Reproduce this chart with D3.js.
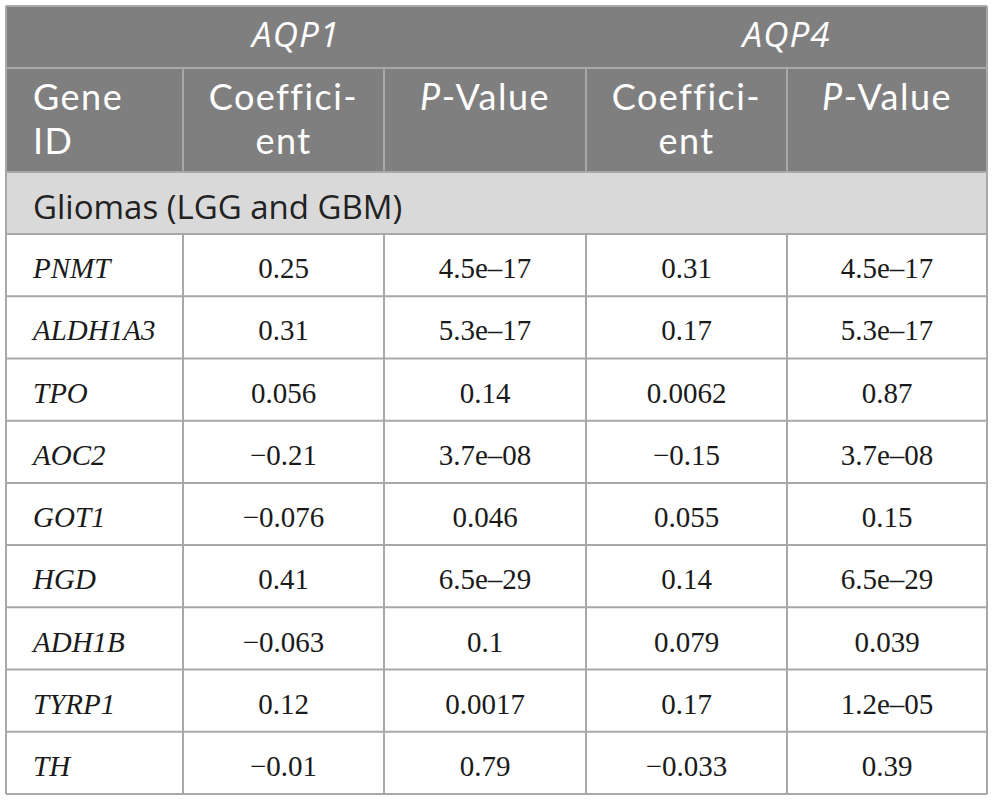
<!DOCTYPE html>
<html>
<head>
<meta charset="utf-8">
<script src="https://cdn.jsdelivr.net/npm/d3@7"></script>
<style>
  html, body { margin: 0; padding: 0; background: #fff; }
</style>
</head>
<body>
<div id="chart"></div>
<script>
// table content
const groups = ['AQP1', 'AQP4']
const subHeaders = ['Coeffici-|ent', 'P-Value']
const section = 'Gliomas (LGG and GBM)'
const genes = ['PNMT', 'ALDH1A3', 'TPO', 'AOC2', 'GOT1', 'HGD', 'ADH1B', 'TYRP1', 'TH']
const aqp1Coef = [0.25, 0.31, 0.056, -0.21, -0.076, 0.41, -0.063, 0.12, -0.01]
const aqp1P = ['4.5e–17', '5.3e–17', '0.14', '3.7e–08', '0.046', '6.5e–29', '0.1', '0.0017', '0.79']
const aqp4Coef = [0.31, 0.17, 0.0062, -0.15, 0.055, 0.14, 0.079, 0.17, -0.033]
const aqp4P = ['4.5e–17', '5.3e–17', '0.87', '3.7e–08', '0.15', '6.5e–29', '0.039', '1.2e–05', '0.39']

const W = 995, H = 801
const colEdges = [6, 183, 384, 586, 787, 987]
const TOP = 6, H1 = 68, H2 = 172, SEC = 234, BOTTOM = 794
const HEAD_BG = '#7f7f7f', SEC_BG = '#d9d9d9', LINE = '#a8a8a8'
const SANS = '"Open Sans", Lato, sans-serif'
const SANS2 = 'Lato, "Open Sans", sans-serif'
const SERIF = '"Liberation Serif", "DejaVu Serif", serif'

const fmt = d3.format('')

const svg = d3.select('#chart').append('svg')
  .attr('width', W).attr('height', H)

// rows of the body
const y = d3.scaleBand().domain(d3.range(genes.length)).range([SEC, BOTTOM])
const colMid = i => (colEdges[i] + colEdges[i + 1]) / 2

// backgrounds
svg.append('rect').attr('x', colEdges[0]).attr('y', TOP)
  .attr('width', colEdges[5] - colEdges[0]).attr('height', H2 - TOP)
  .attr('fill', HEAD_BG)
svg.append('rect').attr('x', colEdges[0]).attr('y', H2)
  .attr('width', colEdges[5] - colEdges[0]).attr('height', SEC - H2)
  .attr('fill', SEC_BG)

// grid lines
const lines = svg.append('g').attr('stroke', LINE).attr('stroke-width', 2)
// horizontal
const hs = [TOP, H1, H2, SEC].concat(d3.range(1, genes.length + 1).map(i => y(i - 1) + y.bandwidth()))
lines.selectAll('line.h').data(hs).join('line').attr('class', 'h')
  .attr('x1', colEdges[0]).attr('x2', colEdges[5])
  .attr('y1', d => d).attr('y2', d => d)
// outer verticals
lines.selectAll('line.o').data([colEdges[0], colEdges[5]]).join('line').attr('class', 'o')
  .attr('x1', d => d).attr('x2', d => d).attr('y1', TOP).attr('y2', BOTTOM)
// inner verticals in header row 2
lines.selectAll('line.v2').data(colEdges.slice(1, 5)).join('line').attr('class', 'v2')
  .attr('x1', d => d).attr('x2', d => d).attr('y1', H1).attr('y2', H2)
// inner verticals in body
lines.selectAll('line.vb').data(colEdges.slice(1, 5)).join('line').attr('class', 'vb')
  .attr('x1', d => d).attr('x2', d => d).attr('y1', SEC).attr('y2', BOTTOM)

// header row 1
const spans = [[colEdges[0], colEdges[3]], [colEdges[3], colEdges[5]]]
svg.selectAll('text.grp').data(groups).join('text').attr('class', 'grp')
  .attr('x', (d, i) => (spans[i][0] + spans[i][1]) / 2)
  .attr('y', 47)
  .attr('text-anchor', 'middle')
  .attr('font-family', SANS).attr('font-style', 'italic')
  .attr('font-size', 35).attr('letter-spacing', 1).attr('fill', '#fff')
  .text(d => d)

// header row 2 (two-line labels as one text with tspans)
const head2 = svg.append('g').attr('font-family', SANS2).attr('font-size', 36)
  .attr('letter-spacing', 1.5).attr('fill', '#fff')
function twoLine(x, anchor, parts) {
  const t = head2.append('text').attr('x', x).attr('y', 110).attr('text-anchor', anchor)
  parts.forEach((p, li) => {
    t.append('tspan').attr('x', x).attr('dy', li === 0 ? 0 : 44).text(p)
  })
}
twoLine(33, 'start', ['Gene', 'ID'])
d3.range(1, 5).forEach(ci => {
  const label = subHeaders[(ci - 1) % 2]
  if (label.includes('|')) {
    twoLine(colMid(ci), 'middle', label.split('|'))
  } else {
    const t = head2.append('text').attr('x', colMid(ci)).attr('y', 110)
      .attr('text-anchor', 'middle')
    t.append('tspan').attr('font-style', 'italic').text(label.split('-')[0])
    t.append('tspan').text('-' + label.split('-')[1])
  }
})

// section row
svg.append('text').attr('x', 33).attr('y', 219)
  .attr('font-family', SANS).attr('font-size', 33).attr('fill', '#222')
  .text(section)

// body
const rows = genes.map((g, i) => [g, fmt(aqp1Coef[i]), aqp1P[i], fmt(aqp4Coef[i]), aqp4P[i]])
const body = svg.append('g').attr('font-family', SERIF).attr('font-size', 29).attr('fill', '#1a1a1a')
rows.forEach((r, ri) => {
  const by = y(ri) + y.bandwidth() * 0.71
  r.forEach((v, ci) => {
    body.append('text')
      .attr('x', ci === 0 ? 33 : colMid(ci))
      .attr('y', by)
      .attr('text-anchor', ci === 0 ? 'start' : 'middle')
      .attr('font-style', ci === 0 ? 'italic' : 'normal')
      .text(v)
  })
})
</script>
</body>
</html>
